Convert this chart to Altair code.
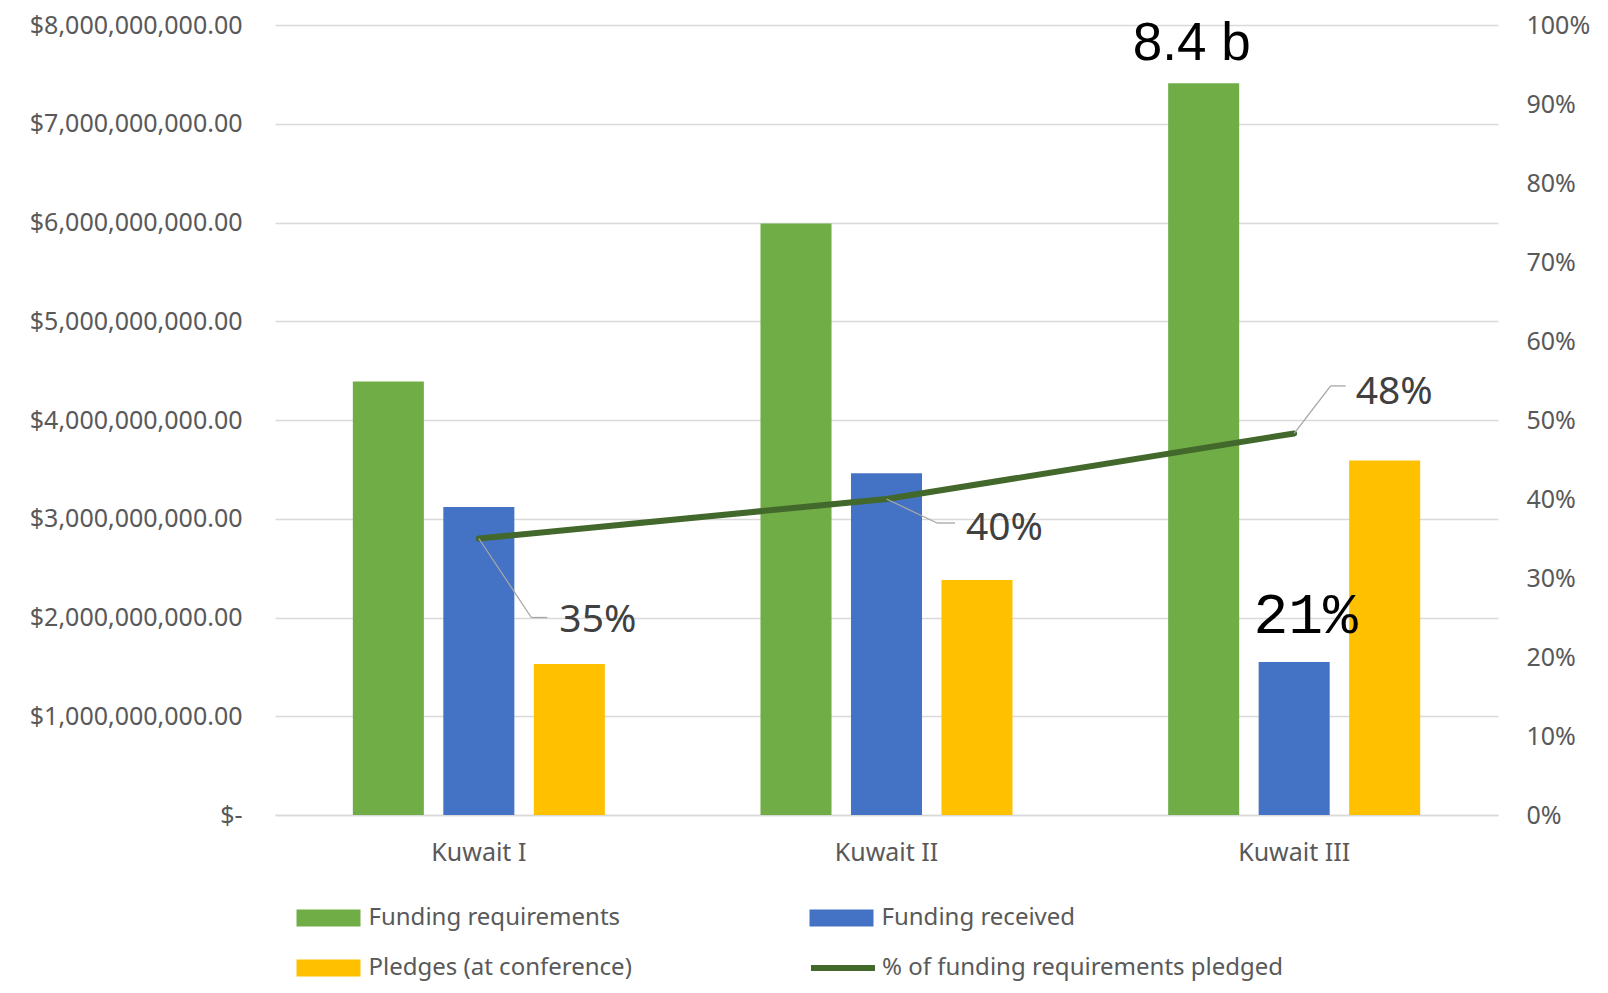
import altair as alt
import pandas as pd

# ---------------- data ----------------
categories = ["Kuwait I", "Kuwait II", "Kuwait III"]
series = ["Funding requirements", "Funding received", "Pledges (at conference)"]
series_colors = ["#70AD47", "#4472C4", "#FFC000"]
legend_order = ["Funding requirements", "Pledges (at conference)", "Funding received"]
legend_colors = ["#70AD47", "#FFC000", "#4472C4"]
funding_requirements = [4.39e9, 5.99e9, 7.41e9]
funding_received = [3.12e9, 3.46e9, 1.55e9]
pledges = [1.53e9, 2.38e9, 3.59e9]
pct_pledged = [0.35, 0.40, 0.483]
pct_labels = ["35%", "40%", "48%"]
line_series = "% of funding requirements pledged"
line_color = "#43682B"
left_ticks = [0, 1e9, 2e9, 3e9, 4e9, 5e9, 6e9, 7e9, 8e9]
right_ticks = [0, 0.1, 0.2, 0.3, 0.4, 0.5, 0.6, 0.7, 0.8, 0.9, 1.0]
note_requirement = "8.4 b"
note_received = "21%"

rows = []
for i, c in enumerate(categories):
    for s, vals in zip(series, [funding_requirements, funding_received, pledges]):
        rows.append({"category": c, "series": s, "value": vals[i]})
bars_df = pd.DataFrame(rows)

line_df = pd.DataFrame({
    "category": categories,
    "pct": pct_pledged,
    "label": pct_labels,
    "line_series": [line_series] * 3,
})

notes_req_df = pd.DataFrame({"category": [categories[2]], "series": [series[0]],
                             "value": [funding_requirements[2]], "note": [note_requirement]})
notes_rec_df = pd.DataFrame({"category": [categories[2]], "series": [series[1]],
                             "value": [funding_received[2]], "note": [note_received]})

# ---------------- styles ----------------
FONT = "Noto Sans"
AX_COLOR = "#595959"
GRID = "#d9d9d9"

x_scale = alt.Scale(domain=categories, paddingInner=0, paddingOuter=0)
xoff_scale = alt.Scale(domain=series, paddingInner=0.215, paddingOuter=0.86)

x_axis = alt.Axis(title=None, labelAngle=0, labelFont=FONT, labelFontSize=25,
                  labelColor=AX_COLOR, labelPadding=25, ticks=False,
                  domain=True, domainColor=GRID, domainWidth=1.3, grid=False)

left_axis = alt.Axis(title=None, values=left_ticks, labelFont=FONT, labelFontSize=25,
                     labelColor=AX_COLOR, labelPadding=33, labelLimit=400, ticks=False,
                     domain=False, grid=True, gridColor=GRID, gridWidth=1.3,
                     labelExpr="datum.value == 0 ? '$-\u00a0\u00a0' : format(datum.value, '$,.2f')")

right_axis = alt.Axis(title=None, orient="right", values=right_ticks, format=".0%",
                      labelFont=FONT, labelFontSize=25, labelColor=AX_COLOR,
                      labelPadding=28, labelLimit=200, ticks=False, domain=False, grid=False)

X = alt.X("category:N", sort=categories, scale=x_scale, axis=x_axis)
XO = alt.XOffset("series:N", sort=series, scale=xoff_scale)
Y_left = alt.Y("value:Q", scale=alt.Scale(domain=[0, 8e9]), axis=left_axis)

bars = alt.Chart(bars_df).mark_bar().encode(
    x=X,
    xOffset=XO,
    y=Y_left,
    color=alt.Color("series:N", sort=legend_order,
                    scale=alt.Scale(domain=legend_order, range=legend_colors),
                    legend=alt.Legend(orient="none", legendX=37.5, legendY=877,
                                      columns=2, columnPadding=177, rowPadding=22,
                                      symbolType="M-2,-0.53L2,-0.53L2,0.53L-2,0.53Z",
                                      symbolSize=1024, symbolStrokeWidth=0,
                                      labelFont=FONT, labelFontSize=24, labelColor=AX_COLOR,
                                      labelOffset=24, labelLimit=800, title=None, padding=0)),
)

note_req = alt.Chart(notes_req_df).mark_text(
    font="Liberation Sans", fontSize=53, color="black", align="center",
    baseline="alphabetic", dx=-12, dy=-23,
).encode(x=X, xOffset=XO, y=Y_left, text="note:N")

note_rec = alt.Chart(notes_rec_df).mark_text(
    font="Liberation Mono", fontSize=58, color="black", align="center",
    baseline="alphabetic", dx=11.5, dy=-28.5,
).encode(x=X, xOffset=XO, y=Y_left, text="note:N")

left_group = alt.layer(bars, note_req, note_rec)

Xc = alt.X("category:N", sort=categories, scale=x_scale, axis=x_axis, bandPosition=0.5)
Y_right = alt.Y("pct:Q", scale=alt.Scale(domain=[0, 1]), axis=right_axis)

line = alt.Chart(line_df).mark_line(strokeWidth=6, strokeCap="round").encode(
    x=Xc,
    y=Y_right,
    stroke=alt.Stroke("line_series:N",
                      scale=alt.Scale(domain=[line_series], range=[line_color]),
                      legend=alt.Legend(orient="none", legendX=549, legendY=924,
                                        symbolType="M-2,0L2,0", symbolSize=1024,
                                        symbolStrokeWidth=6,
                                        labelFont=FONT, labelFontSize=24, labelColor=AX_COLOR,
                                        labelOffset=20, labelLimit=800, title=None, padding=0)),
)

# label offsets (dx, dy) and leader corner / end offsets per point
label_style = {
    "Kuwait I": dict(dx=80.5, dy=93, cx=52.5, cy=79, ex=68.5),
    "Kuwait II": dict(dx=79.5, dy=41, cx=50.5, cy=24, ex=68.5),
    "Kuwait III": dict(dx=61.5, dy=-29.5, cx=36.5, cy=-47.5, ex=51.5),
}

right_layers = [line]
LEADER = "#a6a6a6"
for cat in categories:
    st = label_style[cat]
    base = alt.Chart(line_df).transform_filter(alt.datum.category == cat)
    seg1 = base.mark_rule(color=LEADER, strokeWidth=1.3,
                          x2Offset=st["cx"], y2Offset=st["cy"]).encode(
        x=Xc, y=Y_right,
        x2=alt.X2("category", bandPosition=0.5), y2=alt.Y2("pct"))
    seg2 = base.mark_rule(color=LEADER, strokeWidth=1.3,
                          xOffset=st["cx"], yOffset=st["cy"],
                          x2Offset=st["ex"], y2Offset=st["cy"]).encode(
        x=Xc, y=Y_right,
        x2=alt.X2("category", bandPosition=0.5), y2=alt.Y2("pct"))
    txt = base.mark_text(font=FONT, fontSize=39, color="#404040", align="left",
                         baseline="alphabetic", dx=st["dx"], dy=st["dy"]).encode(
        x=Xc, y=Y_right, text="label:N")
    right_layers += [seg1, seg2, txt]

right_group = alt.layer(*right_layers)

chart = alt.layer(left_group, right_group).resolve_scale(
    y="independent", color="independent", stroke="independent"
).properties(
    width=1223, height=790,
    autosize=alt.AutoSizeParams(type="none"),
    padding={"left": 267, "top": 17, "right": 100, "bottom": 170},
).configure_view(stroke=None)

chart.save("out.html", embed_options={"renderer": "svg", "actions": False})
